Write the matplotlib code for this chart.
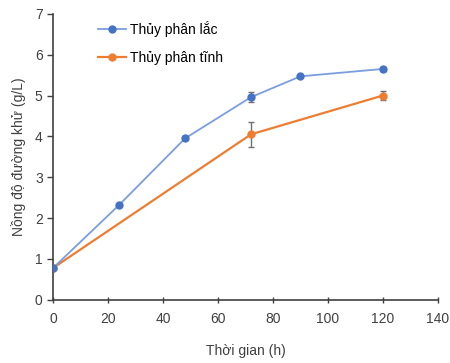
import matplotlib
matplotlib.use("Agg")
import matplotlib.pyplot as plt

plt.rcParams['font.family'] = ['Liberation Sans', 'DejaVu Sans']

# data
t_lac = [0, 24, 48, 72, 90, 120]
y_lac = [0.78, 2.32, 3.95, 4.96, 5.47, 5.65]
err_lac = [0.0, 0.0, 0.05, 0.13, 0.0, 0.05]

t_tinh = [0, 72, 120]
y_tinh = [0.78, 4.05, 5.0]
err_tinh = [0.0, 0.3, 0.12]

x_ticks = [0, 20, 40, 60, 80, 100, 120, 140]
y_ticks = [0, 1, 2, 3, 4, 5, 6, 7]

fig = plt.figure(figsize=(4.5, 3.63), dpi=100)
ax = fig.add_axes([0.118, 0.174, 0.855, 0.788])

ax.errorbar(t_lac, y_lac, yerr=err_lac, color="#7b9de0", marker="o",
            markersize=5, markerfacecolor="#4472c4", markeredgecolor="#4472c4",
            linewidth=1.3, ecolor="#707070", elinewidth=1, capsize=2.5,
            label="Thủy phân lắc", zorder=3)
ax.errorbar(t_tinh, y_tinh, yerr=err_tinh, color="#ed7d31", marker="o",
            markersize=5, linewidth=1.6, ecolor="#707070", elinewidth=1,
            capsize=2.5, label="Thủy phân tĩnh", zorder=2)

ax.set_xlim(0, 140)
ax.set_ylim(0, 7)
ax.set_xticks(x_ticks)
ax.set_yticks(y_ticks)
ax.tick_params(labelsize=10, colors="#404040", length=4, width=1)
ax.tick_params(axis="x", direction="inout", pad=7)
for s in ["top", "right"]:
    ax.spines[s].set_visible(False)
for s in ["left", "bottom"]:
    ax.spines[s].set_color("#404040")
    ax.spines[s].set_linewidth(1.2)

ax.set_xlabel("Thời gian (h)", fontsize=10, color="#404040", labelpad=13)
ax.set_ylabel("Nồng độ đường khử (g/L)", fontsize=10, color="#404040", labelpad=6)

handles, labels = ax.get_legend_handles_labels()
handles = [h[0] for h in handles]
ax.legend(handles, labels, loc="upper left", bbox_to_anchor=(0.085, 1.02),
          frameon=False, fontsize=10, labelspacing=1.05, handlelength=2.0,
          handletextpad=0.25)

fig.savefig("out.png", dpi=100)
